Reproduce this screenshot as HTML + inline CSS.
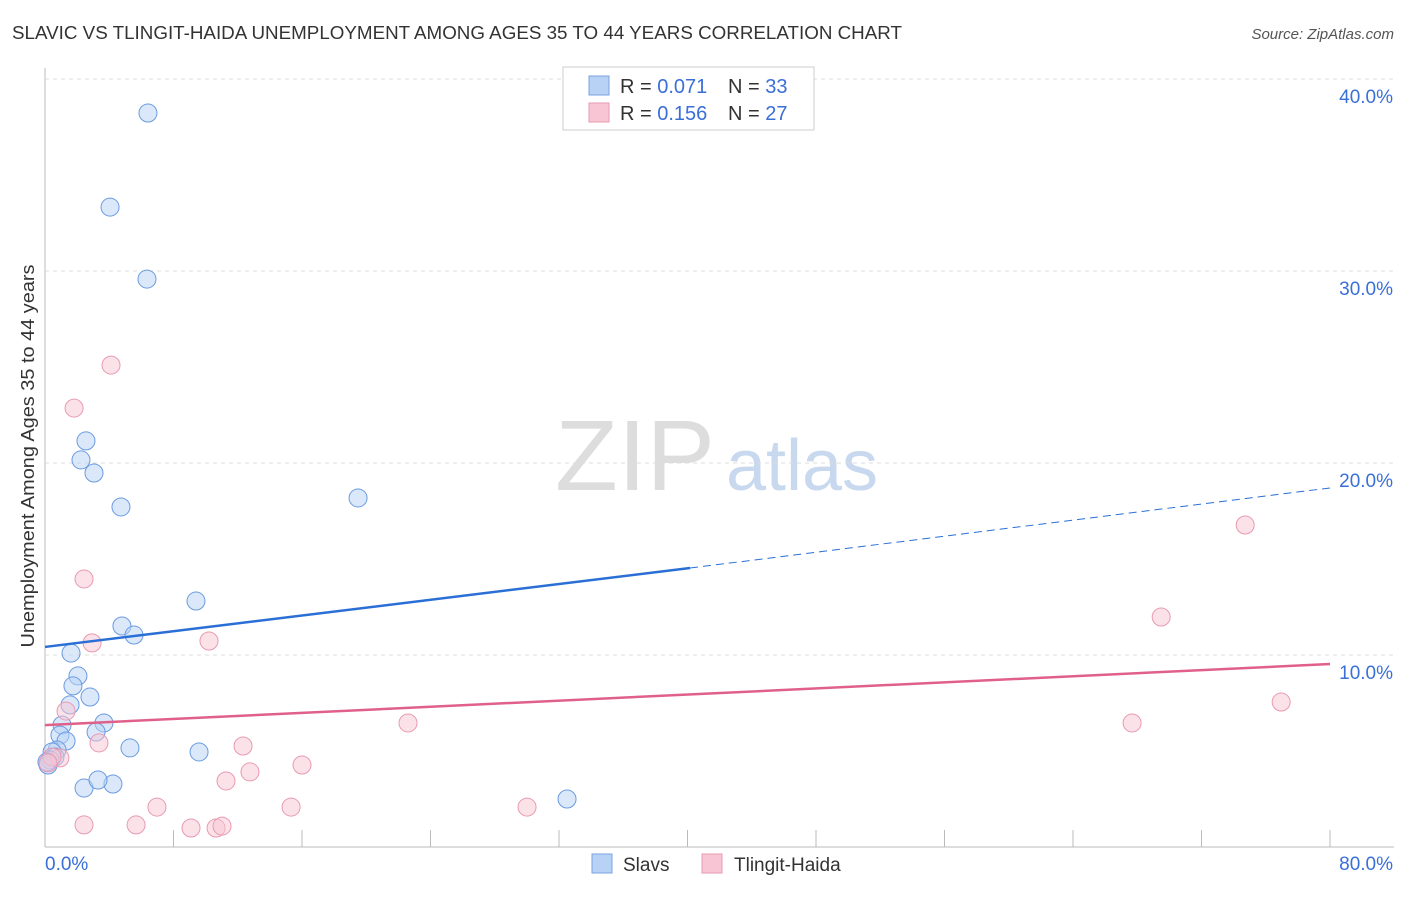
<!DOCTYPE html>
<html><head><meta charset="utf-8"><style>
body{margin:0;background:#fff;font-family:"Liberation Sans",sans-serif;}
svg text{font-family:"Liberation Sans",sans-serif;}
</style></head><body>
<svg id="c" width="1406" height="892" xmlns="http://www.w3.org/2000/svg">
<text x="12" y="39" font-size="18" fill="#333" textLength="890" lengthAdjust="spacingAndGlyphs">SLAVIC VS TLINGIT-HAIDA UNEMPLOYMENT AMONG AGES 35 TO 44 YEARS CORRELATION CHART</text>
<text x="1394" y="39" font-size="15" fill="#555" font-style="italic" text-anchor="end">Source: ZipAtlas.com</text>
<text x="635" y="490" font-size="100" fill="#ddd" font-family="Liberation Serif" text-anchor="middle" textLength="160" lengthAdjust="spacingAndGlyphs">ZIP</text>
<text x="802" y="490" font-size="72" fill="#c8d8ee" text-anchor="middle">atlas</text>
<g id="grid"></g><g id="marks"></g>
<text transform="translate(34,456) rotate(-90)" font-size="18" fill="#333" text-anchor="middle" textLength="383" lengthAdjust="spacingAndGlyphs">Unemployment Among Ages 35 to 44 years</text>
<g>
<rect x="563" y="67" width="251" height="63" fill="#fff" stroke="#ccc"/>
<rect x="589" y="76" width="20" height="19" fill="#b8d2f5" stroke="#7aa3e0"/>
<rect x="589" y="103" width="20" height="19" fill="#f8c5d4" stroke="#e89ab2"/>
<text x="620" y="93" font-size="20" fill="#333">R = <tspan fill="#3a6fd8">0.071</tspan></text>
<text x="728" y="93" font-size="20" fill="#333">N = <tspan fill="#3a6fd8">33</tspan></text>
<text x="620" y="120" font-size="20" fill="#333">R = <tspan fill="#3a6fd8">0.156</tspan></text>
<text x="728" y="120" font-size="20" fill="#333">N = <tspan fill="#3a6fd8">27</tspan></text>
</g>
<g>
<rect x="592" y="854" width="20" height="19" fill="#b8d2f5" stroke="#7aa3e0"/>
<text x="623" y="871" font-size="19" fill="#333">Slavs</text>
<rect x="702" y="854" width="20" height="19" fill="#f8c5d4" stroke="#e89ab2"/>
<text x="734" y="871" font-size="19" fill="#333">Tlingit-Haida</text>
</g>
</svg>
<script>
const slavX=[6.41,4.05,6.35,2.55,2.24,3.05,4.73,19.49,9.40,4.79,5.54,1.62,2.05,1.74,2.80,1.56,3.67,1.06,3.18,0.93,1.31,5.29,9.59,0.75,0.44,0.62,0.31,0.19,2.43,4.23,3.30,32.5,0.12];
const slavY=[38.23,33.33,29.58,21.15,20.16,19.48,17.71,18.18,12.81,11.51,11.04,10.10,8.91,8.39,7.81,7.40,6.46,6.35,5.99,5.83,5.52,5.16,4.95,5.05,4.95,4.69,4.53,4.27,3.07,3.28,3.49,2.50,4.43];
const tlX=[4.11,1.81,2.43,2.93,10.21,74.72,69.49,76.96,67.68,22.60,1.31,3.36,12.33,0.93,16.00,12.76,11.27,6.97,15.32,30.01,2.43,5.67,9.09,10.65,11.02,0.44,0.19];
const tlY=[25.10,22.86,13.96,10.63,10.73,16.77,11.98,7.55,6.46,6.46,7.08,5.42,5.26,4.64,4.27,3.91,3.44,2.08,2.08,2.08,1.15,1.15,0.99,0.99,1.09,4.69,4.38];
const yTicks=[10,20,30,40];
const xTickLabels=["0.0%","80.0%"];
const slavTrend=[10.42,14.53,18.70]; // at x=0, 40.16, 80
const tlTrend=[6.35,9.53];
const X=v=>45+v*16.0625, Y=v=>847-v*19.2;
const NS="http://www.w3.org/2000/svg";
function mk(p,t,a){const e=document.createElementNS(NS,t);for(const k in a)e.setAttribute(k,a[k]);p.appendChild(e);return e;}
const g=document.getElementById('grid'),m=document.getElementById('marks');
let ax=mk(g,'line',{x1:45,y1:68,x2:45,y2:847,stroke:'#bbb'});


let bx=mk(g,'line',{x1:45,y1:847,x2:1394,y2:847,stroke:'#bbb'});


yTicks.forEach(t=>{
 let l=mk(g,'line',{x1:45,y1:Y(t),x2:1394,y2:Y(t),stroke:'#ddd','stroke-dasharray':'4,4'});
 
 
 let tx=mk(g,'text',{x:1393,y:Y(t)+24,'font-size':19,fill:'#3a6fd8','text-anchor':'end'});tx.textContent=t.toFixed(1)+'%';
 
 
});
for(let i=1;i<=10;i++){let l=mk(g,'line',{x1:X(i*8),y1:830,x2:X(i*8),y2:847,stroke:'#bbb'});
 
 }
let t0=mk(g,'text',{x:45,y:870,'font-size':19,fill:'#3a6fd8'});t0.textContent=xTickLabels[0];


let t1=mk(g,'text',{x:1393,y:870,'font-size':19,fill:'#3a6fd8','text-anchor':'end'});t1.textContent=xTickLabels[1];


slavX.forEach((v,i)=>{let c=mk(m,'circle',{cx:X(v),cy:Y(slavY[i]),r:9,fill:'#b8d2f5','fill-opacity':0.5,stroke:'#6a9be0','stroke-width':1});
 
 });
tlX.forEach((v,i)=>{let c=mk(m,'circle',{cx:X(v),cy:Y(tlY[i]),r:9,fill:'#f8c5d4','fill-opacity':0.5,stroke:'#e89ab2','stroke-width':1});
 
 });
let s1=mk(m,'line',{x1:X(0),y1:Y(slavTrend[0]),x2:X(40.16),y2:Y(slavTrend[1]),stroke:'#2a6fd6','stroke-width':2.5});


let s2=mk(m,'line',{x1:X(40.16),y1:Y(slavTrend[1]),x2:X(80),y2:Y(slavTrend[2]),stroke:'#2a6fd6','stroke-width':1,'stroke-dasharray':'8,5'});


let p1=mk(m,'line',{x1:X(0),y1:Y(tlTrend[0]),x2:X(80),y2:Y(tlTrend[1]),stroke:'#e0608a','stroke-width':2.5});


</script>
</body></html>
